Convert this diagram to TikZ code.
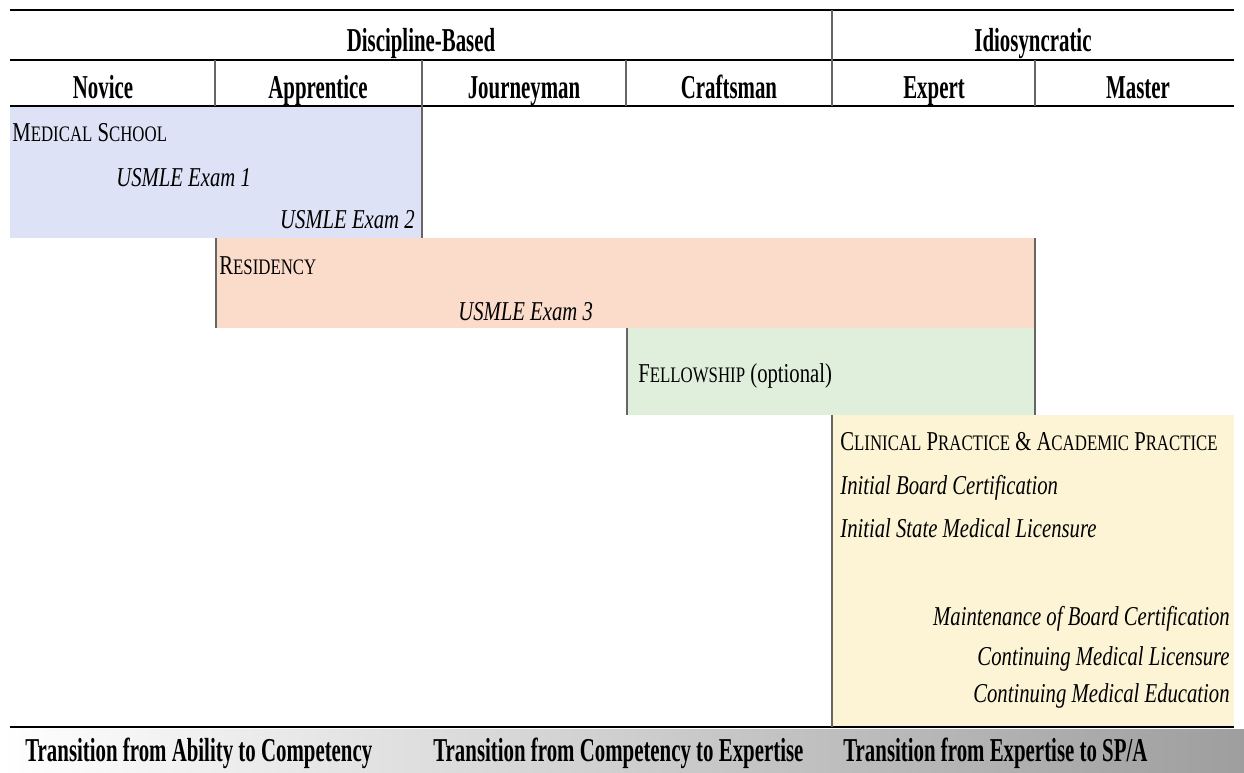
\documentclass[tikz,border=0pt]{standalone}
\usepackage{fontspec}
\setmainfont{Liberation Serif}[FakeStretch=0.76]
\newfontfamily\headfont{Liberation Serif}[FakeStretch=0.625]
\usetikzlibrary{positioning}

\definecolor{schoolblue}{RGB}{222,226,246}
\definecolor{residpeach}{RGB}{251,219,202}
\definecolor{fellowgreen}{RGB}{223,239,219}
\definecolor{practyellow}{RGB}{252,244,212}
\newcommand{\lowcap}[1]{{\fontsize{12.6pt}{12.6pt}\selectfont #1}}

\tikzstyle{rule}=[draw,line width=1.5pt,black]
\tikzstyle{divider}=[draw,line width=0.8pt,black!60]
\tikzstyle{header}=[inner sep=0pt,anchor=base,font=\headfont\bfseries\fontsize{19pt}{19pt}\selectfont]
\tikzstyle{stage}=[inner sep=0pt,anchor=base west,font=\fontsize{15.5pt}{15.5pt}\selectfont]
\tikzstyle{exam}=[stage,font=\itshape\fontsize{15.5pt}{15.5pt}\selectfont]
\tikzstyle{late exam}=[exam,anchor=base east]

\begin{document}
\begin{tikzpicture}[x=0.02cm,y=-0.02cm]
    \useasboundingbox (0,0) rectangle (1244,772);
    % coloured stages
    \fill[schoolblue] (10,107) rectangle (422,238);
    \fill[residpeach] (216,238) rectangle (1035,328);
    \fill[fellowgreen] (627,328) rectangle (1035,415);
    \fill[practyellow] (832,415) rectangle (1234,726);
    \shade[left color=white,right color=black!38] (0,729) rectangle (1244,772);
    % table rules
    \foreach \y in {10,60,106,727}
        \path[rule] (10,\y) -- (1234,\y);
    \path[divider] (832,10) -- (832,60);
    \foreach \x in {215,422,626,832,1035}
        \path[divider] (\x,60) -- (\x,106);
    \path[divider] (422,106) -- (422,238);
    \path[divider] (216,238) -- (216,328);
    \path[divider] (1035,238) -- (1035,415);
    \path[divider] (627,328) -- (627,415);
    \path[divider] (832,415) -- (832,727);
    % headers
    \node[header] (discipline) at (421,51) {Discipline-Based};
    \node[header] (idiosyncratic) at (1033,51) {Idiosyncratic};
    \foreach \pos/\name/\text in {{(103,98)/novice/Novice}, {(318,98)/apprentice/Apprentice},
                                 {(524,98)/journeyman/Journeyman}, {(729,98)/craftsman/Craftsman},
                                 {(934,98)/expert/Expert}, {(1138,98)/master/Master}}
        \node[header] (\name) at \pos {\text};
    % stages and milestones
    \node[stage] (school) at (12,141) {M\lowcap{EDICAL} S\lowcap{CHOOL}};
    \node[exam] (exam1) at (116,186) {USMLE Exam 1};
    \node[late exam] (exam2) at (415,228) {USMLE Exam 2};
    \node[stage] (residency) at (219,274) {R\lowcap{ESIDENCY}};
    \node[exam] (exam3) at (458,320) {USMLE Exam 3};
    \node[stage] (fellowship) at (638,382) {F\lowcap{ELLOWSHIP} (optional)};
    \node[stage] (practice) at (840,450) {C\lowcap{LINICAL} P\lowcap{RACTICE} \& A\lowcap{CADEMIC} P\lowcap{RACTICE}};
    \node[exam] (board) at (840,494) {Initial Board Certification};
    \node[exam] (licensure) at (840,537) {Initial State Medical Licensure};
    \foreach \pos/\name/\text in {{(1230,625)/maintenance/Maintenance of Board Certification},
                                 {(1230,665)/contlicense/Continuing Medical Licensure},
                                 {(1230,702)/contedu/Continuing Medical Education}}
        \node[late exam] (\name) at \pos {\text};
    % transitions
    \node[header,anchor=base west] (ability) at (25,761) {Transition from Ability to Competency};
    \node[header,anchor=base west] (competency) at (433,761) {Transition from Competency to Expertise};
    \node[header,anchor=base west] (expertise) at (843,761) {Transition from Expertise to SP/A};
\end{tikzpicture}
\end{document}
